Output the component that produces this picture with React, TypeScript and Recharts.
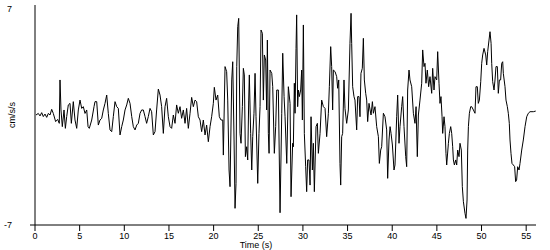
import { LineChart, Line, XAxis, YAxis } from 'recharts';

// [time (s), acceleration (cm/s/s)], one array per stretch of record
const quietPhase: [number, number][] = [
  [0.11, 0], [0.37, 0.1], [0.56, -0.06], [0.75, 0.15], [0.93, -0.1], [1.12, 0.06], [1.31, -0.15],
  [1.49, 0.1], [1.68, 0], [1.87, 0.36], [2.05, 0.1], [2.31, -0.42], [2.54, -0.28], [2.72, -0.53],
  [2.8, 2.23], [2.91, 0.32], [3.06, -0.74], [3.25, 0.32], [3.4, -0.85], [3.55, -0.1], [3.73, 0.64],
  [3.92, 0.74], [4.07, -0.53], [4.29, 0.85], [4.48, -0.32], [4.67, -0.85], [4.85, 0.32], [5.04, 0.95],
  [5.23, 0.42], [5.41, 0.53], [5.6, 0.1], [5.79, 0.32], [5.94, -0.74], [6.08, -0.85], [6.35, -0.32],
  [6.61, 0.53], [6.72, 0.85], [6.91, 0.85], [7.09, -0.64], [7.28, -0.32], [7.47, -0.21], [7.65, 0.32],
  [7.84, 0.74], [8.03, 1.27], [8.21, 0.1], [8.4, -0.95], [8.59, -1.06], [8.77, -0.1], [8.96, 0.85],
  [9.15, 0.53], [9.33, 0.42], [9.52, -1.27], [9.71, -0.74], [9.89, -0.32], [10.08, 0.32], [10.27, 0.64],
  [10.45, 1.06], [10.64, 0.74], [10.83, -0.1], [11.01, -0.74], [11.2, -0.95], [11.39, -0.64],
  [11.57, -0.53], [11.76, 0.1], [11.94, 0.32], [12.13, 0.32], [12.32, -0.1], [12.5, -0.53], [12.69, -0.1],
  [12.88, 0.42], [13.06, 0.21], [13.25, -1.27], [13.44, -1.06], [13.62, 0.32], [13.81, 1.65],
];

const onsetPhase: [number, number][] = [
  [14.0, 1.27], [14.18, 0.53], [14.37, -1.17], [14.56, 0.53], [14.74, 1.06], [14.93, -0.11], [15.12, -0.74],
  [15.3, -0.85], [15.49, 0], [15.68, -0.53], [15.86, 0.64], [16.05, 0.11], [16.24, 0.53], [16.42, -0.21],
  [16.61, 0.32], [16.8, -0.53], [16.98, 0.42], [17.17, -0.85], [17.36, 0.11], [17.54, 1.12], [17.73, 0.53],
  [17.92, 0.95], [18.1, 0.85], [18.29, -0.11], [18.48, -0.32], [18.66, -1.06], [18.85, -0.32], [19.04, -1.27],
  [19.22, -0.64], [19.41, -1.7], [19.6, -0.74], [19.78, -0.11], [19.97, 0.74], [20.08, 1.76], [20.27, 0.95],
  [20.46, 1.27], [20.64, -0.11], [20.83, -0.32], [21.02, -0.32], [21.09, -2.55], [21.28, 3.08], [21.46, 2.76],
  [21.58, 0.95], [21.73, -3.5], [21.84, -4.56], [22.03, 2.23], [22.14, 3.39], [22.29, -1.59], [22.4, -5.94],
  [22.51, -4.35], [22.59, 3.08], [22.7, 5.62], [22.81, 6.15], [22.96, -1.17], [23.07, -1.8], [23.22, 0.53],
  [23.33, 2.97], [23.44, 2.55], [23.56, -2.65], [23.7, -2.02], [23.82, -2.86], [23.93, 0.95], [24.0, 2.55],
  [24.15, -1.17], [24.27, -3.5], [24.38, -1.38], [24.52, 0.11], [24.64, 2.65], [24.75, -0.11], [24.94, -4.35],
  [25.08, -1.17], [25.2, 0.53], [25.31, 5.41], [25.46, 5.2], [25.57, 0.95], [25.68, 3.82], [25.83, 3.5],
  [25.94, 0.32], [26.02, 4.77], [26.13, -1.17], [26.21, -2.44], [26.32, 2.86], [26.51, 2.65], [26.62, 1.8],
  [26.8, -2.44], [26.95, -0.74], [27.07, 1.59], [27.25, 1.59], [27.44, -6.22], [27.63, 0.11], [27.74, 3.93],
  [27.89, 1.17], [28.0, -0.11], [28.19, -3.08], [28.37, 1.8],
];

const strongPhase: [number, number][] = [
  [28.56, 0.74], [28.67, -5.2], [28.85, -1.8], [28.93, -2.02], [29.04, 2.02], [29.12, 0.11], [29.23, 4.24],
  [29.3, 6.37], [29.41, 0.53], [29.49, 1.59], [29.6, 1.17], [29.75, 1.59], [29.86, 2.86], [29.94, -0.32],
  [30.05, 5.73], [30.16, -1.17], [30.31, -3.29], [30.42, -4.88], [30.53, -2.86], [30.68, -2.86], [30.8, -4.46],
  [30.91, -0.11], [31.06, -3.5], [31.17, -1.8], [31.28, -4.88], [31.47, -0.74], [31.62, -0.53], [31.73, -2.44],
  [31.92, -1.17], [32.1, 0.95], [32.29, 0.53], [32.48, 0.42], [32.66, -1.38], [32.85, 0.11], [32.96, 1.8],
  [33.11, 4.35], [33.22, 3.08], [33.33, 0.32], [33.41, 2.86], [33.6, 2.76], [33.78, 2.44], [33.89, 1.7],
  [34.01, 2.23], [34.15, -3.08], [34.23, -4.46], [34.34, -1.38], [34.45, -1.17], [34.6, 2.23], [34.71, 0.42],
  [34.9, -0.53], [35.09, 0.32], [35.27, 4.56], [35.39, 6.47], [35.46, 4.56], [35.57, 1.8], [35.72, 1.17],
  [35.83, 0.95], [36.02, -0.95], [36.13, 1.17], [36.28, 1.17], [36.39, -0.11], [36.5, 2.65], [36.65, 2.97],
  [36.77, 4.88], [36.88, 2.23], [37.03, 1.38], [37.14, 0.95], [37.25, -0.42], [37.4, 0.74], [37.52, 0.32],
  [37.63, 0], [37.78, 0.85], [37.89, 0.11], [38.07, 0.53], [38.26, -0.74], [38.45, -1.38], [38.56, -3.08],
  [38.71, -2.23], [38.82, -2.02], [39.01, 0.11], [39.19, -0.11], [39.38, -0.95], [39.49, -4.03], [39.64, -1.59],
  [39.76, -0.74], [39.87, -1.17], [40.02, -1.91], [40.2, -3.5], [40.31, -3.18], [40.5, -0.11], [40.61, 1.27],
  [40.76, -1.8], [40.87, -0.74], [41.06, 0.53], [41.17, 1.17], [41.32, -0.74], [41.51, -2.65], [41.62, -3.29],
  [41.73, 1.59], [41.88, 2.86], [41.99, 2.23], [42.18, 1.8], [42.37, 0.11], [42.55, -0.53], [42.67, 0.53],
  [42.81, -2.65], [42.93, 0], [43.11, 0.95],
];

const codaPhase: [number, number][] = [
  [43.3, 2.02], [43.41, 4.14], [43.56, 3.08], [43.67, 3.29], [43.78, 2.02], [43.93, 2.86], [44.08, 1.8],
  [44.23, 2.44], [44.42, 1.38], [44.53, 2.97], [44.68, 1.59], [44.79, 2.44], [44.98, 2.23], [45.09, 4.03],
  [45.24, 2.02], [45.35, 0.74], [45.46, 1.17], [45.58, -0.11], [45.65, -1.17], [45.8, -0.11], [45.91, -0.74],
  [46.02, -2.44], [46.1, -3.18], [46.29, -1.8], [46.4, -1.17], [46.55, -0.74], [46.66, -1.17], [46.77, -2.02],
  [46.85, -2.86], [46.96, -3.18], [47.11, -2.86], [47.22, -3.18], [47.33, -2.23], [47.48, -2.65], [47.59, -1.8],
  [47.74, -2.23], [47.85, -4.56], [47.97, -5.52], [48.15, -6.26], [48.26, -6.58], [48.38, -5.41], [48.45, -2.23],
  [48.53, -0.74], [48.64, 0.11], [48.79, 0.53], [48.9, 0.53], [49.09, 0.32], [49.27, 0.11], [49.38, 1.8],
  [49.53, 1.8], [49.64, 0.74], [49.76, 0.95], [49.91, 2.12], [50.02, 3.29], [50.13, 3.82], [50.28, 4.24],
  [50.47, 3.82], [50.58, 3.18], [50.69, 4.03], [50.84, 4.77], [50.95, 5.3], [51.07, 4.56], [51.14, 3.29],
  [51.25, 2.12], [51.4, 1.59], [51.51, 2.23], [51.62, 3.08], [51.77, 3.08], [51.88, 1.38], [52.0, 2.23],
  [52.14, 2.23], [52.26, 3.29], [52.37, 3.39], [52.44, 2.65], [52.63, 1.8], [52.74, 0.95], [52.89, 0.53],
  [53.0, 0.11], [53.11, -0.53], [53.19, -1.59], [53.3, -2.44], [53.41, -3.08], [53.56, -3.18], [53.71, -3.29],
  [53.82, -4.24], [53.93, -4.14], [54.05, -3.29], [54.2, -3.5], [54.31, -3.08], [54.5, -2.23], [54.68, -1.59],
  [54.87, -0.74], [55.06, -0.11], [55.24, 0.11], [55.43, 0.21], [55.8, 0.21], [56.07, 0.25],
];

const timeTicks = [0, 5, 10, 15, 20, 25, 30, 35, 40, 45, 50, 55];
const accelTicks = [-7, 7];

const data = [...quietPhase, ...onsetPhase, ...strongPhase, ...codaPhase].map(([t, a]) => ({ t, a }));

const FONT = '"Liberation Sans", Arial, sans-serif';

function TimeTick({ x, y, payload }: any) {
  return (
    <text x={x} y={y} dy="0.71em" textAnchor="middle" fontSize={9} fontFamily={FONT} fill="#000">
      {payload.value}
    </text>
  );
}

function AccelTick({ y, payload }: any) {
  return (
    <g>
      {payload.value === -7 && <line x1={30} x2={35} y1={y} y2={y} stroke="#000" />}
      <text x={12} y={y} dy="0.36em" textAnchor="end" fontSize={9} fontFamily={FONT} fill="#000">
        {payload.value}
      </text>
    </g>
  );
}

function AccelTitle() {
  return (
    <text x={15} y={115} transform="rotate(-90 15 115)" textAnchor="middle" fontSize={9} fontFamily={FONT} fill="#000">
      cm/s/s
    </text>
  );
}

function TimeTitle() {
  return (
    <text x={256} y={248} textAnchor="middle" fontSize={9} fontFamily={FONT} fill="#000">
      Time (s)
    </text>
  );
}

export default function App() {
  return (
    <div style={{ position: 'absolute', left: 0, top: 0, width: 550, height: 250, background: '#fff' }}>
      <LineChart width={550} height={250} data={data} margin={{ top: 5, right: 14, bottom: 0, left: 0 }}>
        <XAxis
          dataKey="t"
          type="number"
          domain={[0, 56.1]}
          allowDataOverflow
          ticks={timeTicks}
          interval={0}
          height={25}
          tickSize={6}
          stroke="#000"
          tick={<TimeTick />}
          label={<TimeTitle />}
        />
        <YAxis
          type="number"
          domain={[-7, 7]}
          ticks={accelTicks}
          width={35}
          tickLine={false}
          stroke="#000"
          tick={<AccelTick />}
          label={<AccelTitle />}
        />
        <Line
          type="linear"
          dataKey="a"
          stroke="#000"
          strokeWidth={1}
          dot={false}
          isAnimationActive={false}
        />
      </LineChart>
    </div>
  );
}
